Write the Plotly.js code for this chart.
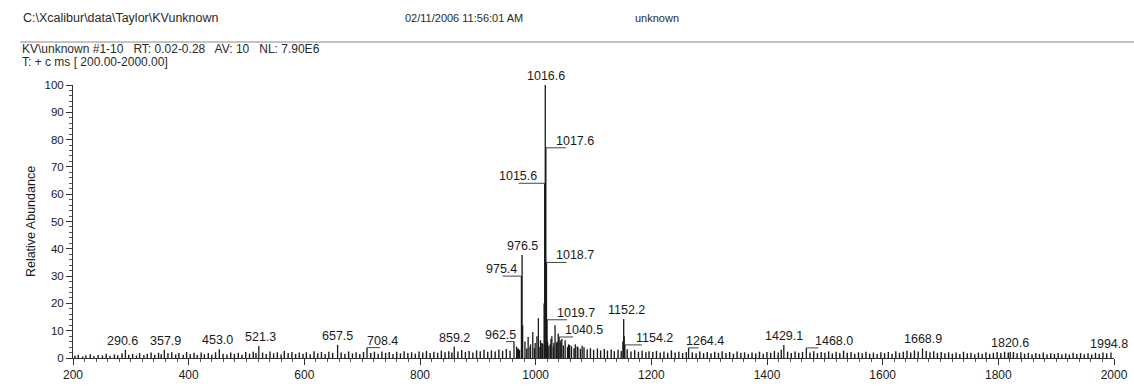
<!DOCTYPE html>
<html>
<head>
<meta charset="utf-8">
<script src="https://cdn.plot.ly/plotly-3.0.1.min.js"></script>
<style>html,body{margin:0;padding:0;background:#fff;}#chart{width:1134px;height:390px;}</style>
</head>
<body>
<div id="chart"></div>
<script>
// ---- header texts ----
const filePath = "C:\\Xcalibur\\data\\Taylor\\KVunknown";
const dateText = "02/11/2006 11:56:01 AM";
const sampleText = "unknown";
const scanLine1 = "KV\\unknown #1-10&nbsp;&nbsp; RT: 0.02-0.28&nbsp;&nbsp; AV: 10&nbsp;&nbsp; NL: 7.90E6";
const scanLine2 = "T: + c ms [ 200.00-2000.00]";
const yTitle = "Relative Abundance";

// ---- axis ticks ----
const xTicks = [200, 400, 600, 800, 1000, 1200, 1400, 1600, 1800, 2000];
const yTicks = [0, 10, 20, 30, 40, 50, 60, 70, 80, 90, 100];

// ---- labelled peaks (m/z, relative abundance) ----
const labelMz  = [290.6, 357.9, 453.0, 521.3, 657.5, 708.4, 859.2, 962.5, 975.4, 976.5, 1015.6, 1016.6, 1017.6, 1018.7, 1019.7, 1040.5, 1152.2, 1154.2, 1264.4, 1429.1, 1468.0, 1668.9, 1820.6, 1994.8];
const labelInt = [3.0, 3.0, 3.2, 4.4, 4.8, 3.8, 4.2, 6.0, 30.0, 37.7, 64.0, 100.0, 77.0, 35.0, 14.0, 7.7, 14.3, 4.8, 3.7, 4.8, 3.7, 3.5, 2.2, 2.0];
const labelText = ["290.6", "357.9", "453.0", "521.3", "657.5", "708.4", "859.2", "962.5", "975.4", "976.5", "1015.6", "1016.6", "1017.6", "1018.7", "1019.7", "1040.5", "1152.2", "1154.2", "1264.4", "1429.1", "1468.0", "1668.9", "1820.6", "1994.8"];

// ---- other cluster peaks ----
const clusterMz  = [967.0, 970.3, 977.5, 981.5, 987.0, 991.2, 995.0, 999.1, 1002.2, 1004.7, 1008.3, 1010.5, 1014.6, 1020.7, 1026.4, 1028.0, 1031.5, 1033.5, 1037.2, 1039.0, 1042.3, 1045.2, 1051.0, 1056.8, 1062.0, 1068.5, 1073.0, 1080.4, 1150.8, 1153.1];
const clusterInt = [4.2, 3.5, 12.0, 6.0, 7.7, 5.0, 9.5, 5.5, 8.0, 14.6, 6.5, 5.5, 20.0, 6.0, 7.0, 8.0, 5.5, 12.0, 6.0, 9.0, 6.5, 7.0, 6.5, 5.0, 4.3, 5.0, 4.0, 4.5, 6.0, 8.0];

// ---- baseline noise peaks ----
const noiseMz = [
203.4,209.1,216.7,222.3,229.8,236.2,243.5,250.9,257.4,264.0,271.6,277.2,284.8,296.3,
303.1,309.7,315.2,322.6,328.4,335.0,341.3,347.9,352.5,364.2,370.8,377.5,383.1,390.6,396.4,
402.7,409.3,414.8,421.6,427.2,433.9,440.1,446.5,459.4,466.2,472.7,479.1,485.8,492.3,498.6,
505.2,511.7,516.4,527.8,534.1,540.6,546.9,553.3,559.8,565.4,572.0,578.5,584.9,591.2,597.7,
603.5,610.2,616.8,623.1,629.6,636.0,642.4,648.9,663.7,670.1,676.6,683.2,689.5,695.9,
702.3,714.9,721.2,727.6,734.1,740.5,746.8,753.3,759.7,766.2,772.6,779.0,785.5,791.9,798.3,
804.8,811.2,817.6,824.0,830.5,836.9,843.3,849.8,855.2,865.6,872.1,878.5,884.9,891.4,897.8,
904.2,910.7,917.1,923.5,930.0,936.4,942.8,949.3,955.7,968.2,972.1,984.6,990.3,997.8,
1007.4,1012.2,1022.8,1025.3,1030.6,1036.1,1043.7,1047.9,1055.2,1058.8,1066.4,1071.9,1077.3,1083.6,1089.1,1094.7,
1100.2,1106.8,1112.3,1118.7,1124.1,1130.6,1136.0,1142.5,1147.9,1158.3,1164.8,1171.2,1177.7,1184.1,1190.6,1196.0,
1202.5,1208.9,1215.4,1221.8,1228.3,1234.7,1241.2,1247.6,1254.1,1260.5,1270.9,1277.4,1283.8,1290.3,1296.7,
1303.2,1309.6,1316.1,1322.5,1329.0,1335.4,1341.9,1348.3,1354.8,1361.2,1367.7,1374.1,1380.6,1387.0,1393.5,1399.9,
1406.4,1412.8,1419.3,1424.7,1435.6,1442.0,1448.5,1454.9,1461.4,1474.3,1480.8,1487.2,1493.7,
1500.1,1506.6,1513.0,1519.5,1525.9,1532.4,1538.8,1545.3,1551.7,1558.2,1564.6,1571.1,1577.5,1584.0,1590.4,1596.9,
1603.3,1609.8,1616.2,1622.7,1629.1,1635.6,1642.0,1648.5,1654.9,1661.4,1675.3,1681.8,1688.2,1694.7,
1701.1,1707.6,1714.0,1720.5,1726.9,1733.4,1739.8,1746.3,1752.7,1759.2,1765.6,1772.1,1778.5,1785.0,1791.4,1797.9,
1804.3,1810.8,1817.2,1826.1,1832.5,1839.0,1845.4,1851.9,1858.3,1864.8,1871.2,1877.7,1884.1,1890.6,1897.0,
1903.5,1909.9,1916.4,1922.8,1929.3,1935.7,1942.2,1948.6,1955.1,1961.5,1968.0,1974.4,1980.9,1987.3
];
const noiseInt = [
0.8,1.2,0.6,1.0,1.4,0.7,1.1,0.9,1.6,0.8,1.3,1.0,1.7,1.2,
1.5,0.9,1.8,1.1,1.6,2.0,1.2,1.9,1.4,1.7,2.1,1.3,1.8,1.2,2.2,
1.5,1.9,1.1,2.0,1.4,1.8,1.2,2.1,1.6,1.3,2.0,1.5,1.9,1.2,2.2,
1.6,2.3,1.8,2.0,1.5,2.4,1.7,2.1,1.3,2.6,1.8,2.2,1.5,2.0,1.6,
2.1,1.4,2.5,1.7,2.2,1.5,2.3,1.9,2.0,1.6,2.4,1.7,2.1,1.5,
2.2,1.8,2.3,1.6,2.4,1.9,2.2,1.5,2.3,1.7,2.5,1.8,2.1,1.6,2.4,
2.0,2.6,1.8,2.3,1.9,2.7,2.1,2.5,2.0,2.4,2.9,2.2,2.6,2.0,2.8,
2.5,3.0,2.3,2.8,2.4,3.1,2.6,3.3,2.7,3.4,2.9,3.5,4.1,3.6,
4.0,5.2,4.5,5.0,4.2,5.6,5.8,4.6,4.0,4.8,3.6,4.2,3.4,3.9,3.2,3.6,
3.0,3.5,2.8,3.3,2.7,3.1,2.5,3.0,2.6,3.2,2.4,2.9,2.3,2.7,2.1,2.5,
2.2,2.6,2.0,2.4,1.9,2.8,2.0,2.3,1.8,2.2,2.1,1.7,2.4,1.8,2.2,
1.7,2.3,1.9,2.5,1.8,2.2,1.6,2.4,1.9,2.1,1.5,2.0,1.7,2.3,1.6,2.2,
1.9,2.6,2.0,3.0,2.3,1.8,2.4,1.9,2.2,2.0,2.5,1.8,2.2,
1.9,2.4,1.7,2.3,1.8,2.7,1.9,2.2,1.6,2.1,1.7,2.3,1.6,2.0,1.5,2.1,
1.8,2.2,1.6,2.5,1.9,2.3,2.7,2.0,2.8,2.4,2.6,2.1,2.5,1.9,
2.2,1.7,2.1,1.6,2.0,1.5,2.3,1.7,1.9,1.4,2.0,1.6,2.1,1.5,1.9,2.2,
1.8,2.3,2.0,2.2,1.7,2.1,1.6,1.9,1.4,1.8,1.5,2.0,1.4,1.7,1.5,
1.8,1.4,1.7,1.3,1.9,1.5,1.8,1.4,1.7,1.3,1.9,1.6,2.0,1.7
];

// ---- label placement (styling only): side c/l/r, pixel shift, leader length in px ----
const labelPlace = {
  "290.6": {side: "c", dx: -3}, "357.9": {side: "c", dx: 1}, "453.0": {side: "c", dx: -2},
  "521.3": {side: "c", dx: 2}, "657.5": {side: "c", dx: 0}, "708.4": {side: "r", dx: -2, lead: 13},
  "859.2": {side: "c", dx: 0}, "962.5": {side: "l", dx: 4, lead: -8}, "975.4": {side: "l", dx: -2, lead: -19},
  "976.5": {side: "c", dx: 0}, "1015.6": {side: "l", dx: -6, lead: -26}, "1016.6": {side: "c", dx: 1},
  "1017.6": {side: "r", dx: 8, lead: 20}, "1018.7": {side: "r", dx: 8, lead: 20}, "1019.7": {side: "r", dx: 8, lead: 20},
  "1040.5": {side: "r", dx: 4, lead: 14}, "1152.2": {side: "c", dx: 3}, "1154.2": {side: "r", dx: 9, lead: 17},
  "1264.4": {side: "r", dx: -5, lead: 10}, "1429.1": {side: "c", dx: 0}, "1468.0": {side: "r", dx: 7, lead: 12},
  "1668.9": {side: "c", dx: 0}, "1820.6": {side: "c", dx: 0}, "1994.8": {side: "c", dx: -2}
};

function sticks(mz, inten) {
  const xs = [], ys = [];
  for (let i = 0; i < mz.length; i++) { xs.push(mz[i], mz[i], null); ys.push(0, inten[i], null); }
  return {xs, ys};
}
const nS = sticks(noiseMz, noiseInt);
const cS = sticks(clusterMz, clusterInt);
const lS = sticks(labelMz, labelInt);

const ink = "#1a1a1a";
const traces = [
  {x: nS.xs, y: nS.ys, type: "scatter", mode: "lines", line: {color: ink, width: 1.4}, hoverinfo: "skip"},
  {x: cS.xs, y: cS.ys, type: "scatter", mode: "lines", line: {color: ink, width: 1.3}, hoverinfo: "skip"},
  {x: lS.xs, y: lS.ys, type: "scatter", mode: "lines", line: {color: ink, width: 1.3}, hoverinfo: "skip"}
];

const font = "Liberation Sans, Arial, sans-serif";
const annotations = [];
const shapes = [];
for (let i = 0; i < labelMz.length; i++) {
  const p = labelPlace[labelText[i]] || {side: "c", dx: 0};
  const isLead = p.side !== "c";
  annotations.push({
    x: labelMz[i], y: labelInt[i], xref: "x", yref: "y", text: labelText[i], showarrow: false,
    xanchor: p.side === "c" ? "center" : (p.side === "l" ? "right" : "left"),
    yanchor: "bottom", xshift: p.dx, yshift: isLead ? -2 : 0,
    font: {family: font, size: 12.5, color: ink}
  });
  if (isLead && p.lead) {
    shapes.push({type: "line", xref: "x", yref: "y", xsizemode: "pixel", xanchor: labelMz[i],
      x0: 0, x1: p.lead, y0: labelInt[i], y1: labelInt[i], line: {color: "#444", width: 1}});
  }
}
// header (paper coords relative to the plot area)
const L = 73, R = 1114, T = 85, B = 358;
const px = v => (v - L) / (R - L);
const py = v => (B - v) / (B - T);
const hdrFont = {family: font, size: 12, color: "#2a2a2a"};
const hdrFontSmall = {family: font, size: 11, color: "#2a2a2a"};
annotations.push(
  {xref: "paper", yref: "paper", x: px(21), y: py(18), text: filePath, showarrow: false, xanchor: "left", yanchor: "middle", font: {family: font, size: 12.5, color: "#2a2a2a"}},
  {xref: "paper", yref: "paper", x: px(403), y: py(18), text: dateText, showarrow: false, xanchor: "left", yanchor: "middle", font: hdrFontSmall},
  {xref: "paper", yref: "paper", x: px(633), y: py(18), text: sampleText, showarrow: false, xanchor: "left", yanchor: "middle", font: hdrFontSmall},
  {xref: "paper", yref: "paper", x: px(21), y: py(49), text: scanLine1, showarrow: false, xanchor: "left", yanchor: "middle", font: hdrFont, borderpad: 0},
  {xref: "paper", yref: "paper", x: px(21), y: py(62), text: scanLine2, showarrow: false, xanchor: "left", yanchor: "middle", font: hdrFont, borderpad: 0}
);
shapes.push({type: "line", xref: "paper", yref: "paper", x0: px(20), x1: px(1134), y0: py(42), y1: py(42), line: {color: "#8a8a8a", width: 1}});

const layout = {
  width: 1134, height: 390,
  margin: {l: L, r: 1134 - R, t: T, b: 390 - B, pad: 0},
  paper_bgcolor: "#fff", plot_bgcolor: "#fff",
  showlegend: false,
  font: {family: font, size: 12, color: ink},
  xaxis: {
    range: [200, 2000], tickvals: xTicks, ticktext: xTicks.map(String),
    showgrid: false, zeroline: false, showline: true, linecolor: "#333", linewidth: 1,
    ticks: "outside", ticklen: 6, tickcolor: "#333", tickfont: {family: font, size: 12, color: ink},
    minor: {dtick: 20, ticks: "outside", ticklen: 3, tickcolor: "#555", showgrid: false}
  },
  yaxis: {
    range: [0, 100], tickvals: yTicks, ticktext: yTicks.map(String),
    showgrid: false, zeroline: false, showline: true, linecolor: "#333", linewidth: 1,
    ticks: "outside", ticklen: 6, tickcolor: "#333", tickfont: {family: font, size: 11.5, color: ink},
    minor: {dtick: 2, ticks: "outside", ticklen: 3, tickcolor: "#555", showgrid: false},
    title: {text: yTitle, font: {family: font, size: 12.5, color: ink}, standoff: 6}
  },
  annotations: annotations,
  shapes: shapes
};
Plotly.newPlot("chart", traces, layout, {staticPlot: true, displayModeBar: false});
</script>
</body>
</html>
